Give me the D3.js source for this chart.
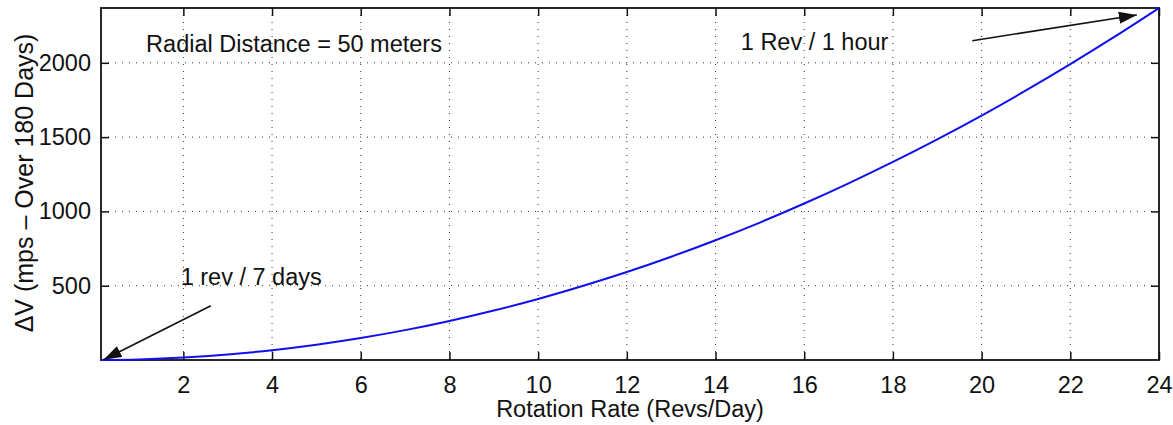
<!DOCTYPE html>
<html>
<head>
<meta charset="utf-8">
<script src="https://cdn.jsdelivr.net/npm/d3@7"></script>
<style>
  body { margin: 0; background: #fff; }
  text { font-family: "Liberation Sans", Arial, sans-serif; fill: #111; }
</style>
</head>
<body>
<svg id="chart" width="1173" height="425"></svg>
<script>
// rotation rate (revs/day) and delta-v (m/s over 180 days)
var rates = [0.143, 1, 2, 3, 4, 5, 6, 7, 8, 9, 10, 11, 12, 13, 14, 15, 16, 17, 18, 19, 20, 21, 22, 23, 24];
var deltaV = [0, 4, 16, 37, 66, 103, 148, 201, 263, 333, 411, 498, 592, 695, 806, 925, 1053, 1189, 1333, 1485, 1645, 1814, 1991, 2176, 2369];

var xTicks = [2, 4, 6, 8, 10, 12, 14, 16, 18, 20, 22, 24];
var yTicks = [500, 1000, 1500, 2000];

// annotations, in data units
var noteTexts = ['Radial Distance = 50 meters', '1 rev / 7 days', '1 Rev / 1 hour'];
var notePos = [[1.16, 2075], [1.94, 507], [14.57, 2088]];
var arrowFrom = [[2.62, 365], [19.79, 2149]];
var arrowTo = [[0.2, 2], [23.5, 2322]];

var fontSize = '23.5px';

var margin = {top: 8, right: 14, bottom: 65, left: 101};
var width = 1173 - margin.left - margin.right;
var height = 425 - margin.top - margin.bottom;

var svg = d3.select('#chart');
var g = svg.append('g')
    .attr('transform', 'translate(' + margin.left + ',' + margin.top + ')');

var x = d3.scaleLinear().domain([d3.min(rates), d3.max(rates)]).range([0, width]);
var y = d3.scaleLinear().domain([0, d3.max(deltaV)]).range([height, 0]);

svg.append('defs').append('marker')
    .attr('id', 'head')
    .attr('viewBox', '0 0 18 12')
    .attr('refX', 18).attr('refY', 6)
    .attr('markerWidth', 18).attr('markerHeight', 12)
    .attr('markerUnits', 'userSpaceOnUse')
    .attr('orient', 'auto')
  .append('path')
    .attr('d', 'M0,0 L18,6 L0,12 z')
    .attr('fill', '#111');

// dotted grid
g.selectAll('.gx').data(xTicks.filter(t => t < 24)).enter().append('line')
    .attr('x1', d => x(d)).attr('x2', d => x(d))
    .attr('y1', 0).attr('y2', height)
    .attr('stroke', '#333').attr('stroke-width', 1)
    .attr('stroke-dasharray', '1,6');

g.selectAll('.gy').data(yTicks).enter().append('line')
    .attr('x1', 0).attr('x2', width)
    .attr('y1', d => y(d)).attr('y2', d => y(d))
    .attr('stroke', '#333').attr('stroke-width', 1)
    .attr('stroke-dasharray', '1,6');

// axes with inward ticks
function styleAxis(sel)
{
  sel.attr('font-size', null).attr('font-family', null);
  sel.select('.domain').remove();
  sel.selectAll('line').attr('stroke', '#111').attr('stroke-width', 1.5);
  sel.selectAll('text').style('font-size', fontSize).attr('fill', '#111');
}

g.append('g')
    .attr('transform', 'translate(0,' + height + ')')
    .call(d3.axisBottom(x).tickValues(xTicks).tickFormat(d3.format('d')).tickSizeInner(-8).tickSizeOuter(0).tickPadding(16))
    .call(styleAxis);

g.append('g')
    .call(d3.axisTop(x).tickValues(xTicks).tickSizeInner(-8).tickSizeOuter(0).tickFormat(''))
    .call(styleAxis);

g.append('g')
    .call(d3.axisLeft(y).tickValues(yTicks).tickFormat(d3.format('d')).tickSizeInner(-8).tickSizeOuter(0).tickPadding(10))
    .call(styleAxis);

g.append('g')
    .attr('transform', 'translate(' + width + ',0)')
    .call(d3.axisRight(y).tickValues(yTicks).tickSizeInner(-8).tickSizeOuter(0).tickFormat(''))
    .call(styleAxis);

g.append('rect')
    .attr('width', width).attr('height', height)
    .attr('fill', 'none').attr('stroke', '#111').attr('stroke-width', 1.8);

// curve
var line = d3.line().x((d, i) => x(rates[i])).y(d => y(d)).curve(d3.curveMonotoneX);
g.append('path')
    .datum(deltaV)
    .attr('d', line)
    .attr('fill', 'none')
    .attr('stroke', '#1010ee')
    .attr('stroke-width', 2);

// annotations
g.selectAll('.note').data(noteTexts).enter().append('text')
    .attr('x', (d, i) => x(notePos[i][0]))
    .attr('y', (d, i) => y(notePos[i][1]))
    .style('font-size', fontSize)
    .text(d => d);

g.selectAll('.arrow').data(arrowFrom).enter().append('line')
    .attr('x1', d => x(d[0])).attr('y1', d => y(d[1]))
    .attr('x2', (d, i) => x(arrowTo[i][0])).attr('y2', (d, i) => y(arrowTo[i][1]))
    .attr('stroke', '#111').attr('stroke-width', 1.6)
    .attr('marker-end', 'url(#head)');

// axis titles
svg.append('text')
    .attr('x', margin.left + width / 2)
    .attr('y', 417)
    .attr('text-anchor', 'middle')
    .style('font-size', fontSize)
    .text('Rotation Rate (Revs/Day)');

svg.append('text')
    .attr('transform', 'translate(33,183) rotate(-90)')
    .attr('text-anchor', 'middle')
    .style('font-size', '25px')
    .text('\u0394V (mps \u2013 Over 180 Days)');
</script>
</body>
</html>
